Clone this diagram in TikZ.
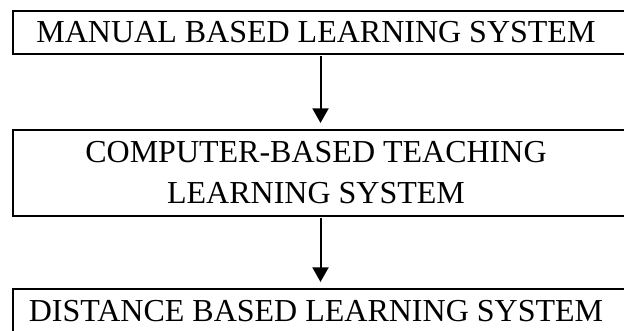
\documentclass[tikz,border=0pt]{standalone}
\usepackage{fontspec}
\setmainfont{Liberation Serif}
\usetikzlibrary{arrows.meta}

% tekst iets links van het midden, vak loopt rechts door
\newcommand\stagetext[1]{\parbox{440pt}{\centering #1}\kern15.75pt}

\tikzset{
  stage/.style={draw, line width=1.5pt, inner sep=0pt,
    minimum width=470.25pt, font=\fontsize{24}{30.75}\selectfont},
  flow/.style={->, line width=1.5pt, shorten <=1pt, shorten >=4.5pt}
}

\begin{document}
\begin{tikzpicture}[x=0.75pt, y=-0.75pt, >={Triangle[length=11pt, width=12pt]}]

  % Paginarand
  \path[use as bounding box, clip] (0,0) rectangle (624,331);

  % Middelpunten van de vakken
  \coordinate (P1) at (326.5, 32.5);
  \coordinate (P2) at (326.5,173);
  \coordinate (P3) at (326.5,311);

  % Vakken
  \node[stage, minimum height=32.25pt] (manual) at (P1)
    {\stagetext{MANUAL BASED LEARNING SYSTEM}};
  \node[stage, minimum height=64.5pt] (computer) at (P2)
    {\stagetext{COMPUTER-BASED TEACHING\\LEARNING SYSTEM}};
  \node[stage, minimum height=33pt] (distance) at (P3)
    {\stagetext{DISTANCE BASED LEARNING SYSTEM}};

  % Pijlen
  \draw[flow] ([xshift=-4.5pt]manual.south) -- ([xshift=-4.5pt]computer.north);
  \draw[flow] ([xshift=-4.5pt]computer.south) -- ([xshift=-4.5pt]distance.north);

\end{tikzpicture}
\end{document}
